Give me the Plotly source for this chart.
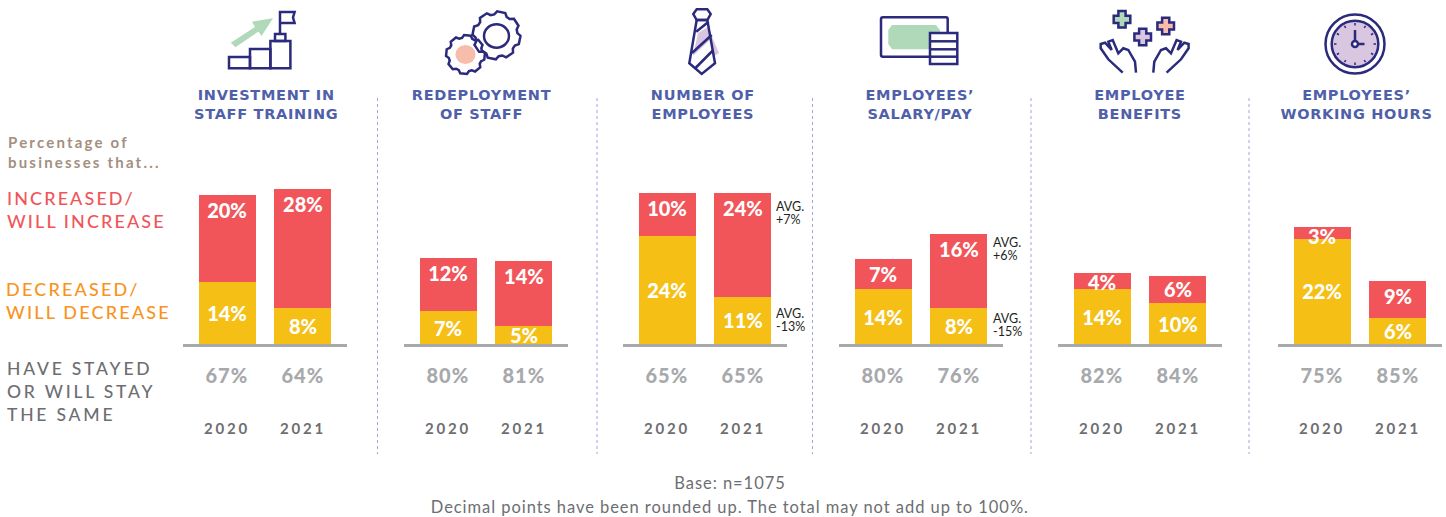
import math
import plotly.graph_objects as go

W, H = 1446, 517
FONT = "Lato"

# ---------- data ----------
panels = ["INVESTMENT IN<br>STAFF TRAINING", "REDEPLOYMENT<br>OF STAFF", "NUMBER OF<br>EMPLOYEES",
          "EMPLOYEES’<br>SALARY/PAY", "EMPLOYEE<br>BENEFITS", "EMPLOYEES’<br>WORKING HOURS"]
years = ["2020", "2021"]
# bar heights (percentage points)
decreased_2020 = [14.1, 7.5, 24.5, 12.5, 12.5, 23.9]
decreased_2021 = [8.2, 4.1, 10.7, 8.2, 9.3, 5.9]
increased_2020 = [19.8, 12.0, 9.8, 6.8, 3.6, 2.7]
increased_2021 = [27.0, 14.8, 23.6, 16.8, 6.1, 8.4]
# printed labels
decreased_2020_lbl = ["14%", "7%", "24%", "14%", "14%", "22%"]
decreased_2021_lbl = ["8%", "5%", "11%", "8%", "10%", "6%"]
increased_2020_lbl = ["20%", "12%", "10%", "7%", "4%", "3%"]
increased_2021_lbl = ["28%", "14%", "24%", "16%", "6%", "9%"]
same_2020_lbl = ["67%", "80%", "65%", "80%", "82%", "75%"]
same_2021_lbl = ["64%", "81%", "65%", "76%", "84%", "85%"]

# ---------- style ----------
RED, YEL = "#f15559", "#f5bf16"
NAVY, GREEN, LILAC, SALMON = "#2b2a7c", "#afd9b8", "#d9c6e0", "#f8bcaa"
GREY_TXT, GREY_VAL, GREY_LINE = "#6d6e71", "#a7a9ac", "#a7a9ac"
TITLE = "#4f5fa9"
PANEL_LEFT = [183, 404, 623, 839, 1058, 1278]
PANEL_W = 164
TITLE_X = [266, 481, 703, 920, 1140, 1356]
SEP_X = [377.5, 597, 812.5, 1031, 1249]
BASE_Y, TOP_Y = 344, 179
PX_PER_UNIT = 4.4


def fx(x): return x / W
def fy(y): return 1 - y / H


def path(d):
    out, isx = [], True
    for t in d.split():
        if t.isalpha():
            out.append(t)
            isx = True
        else:
            out.append(f"{(fx(float(t)) if isx else fy(float(t))):.5f}")
            isx = not isx
    return " ".join(out)


def poly(pts, close=True):
    d = "M " + " L ".join(f"{x} {y}" for x, y in pts)
    return path(d + (" Z" if close else ""))


shapes = []


def add_path(d, fill=None, line=NAVY, lw=2.5):
    shapes.append(dict(type="path", xref="paper", yref="paper", path=d,
                       fillcolor=fill or "rgba(0,0,0,0)",
                       line=dict(color=line if line else "rgba(0,0,0,0)", width=lw if line else 0)))


def add_circle(cx, cy, rx, ry=None, fill=None, line=NAVY, lw=2.5):
    ry = ry or rx
    shapes.append(dict(type="circle", xref="paper", yref="paper",
                       x0=fx(cx - rx), x1=fx(cx + rx), y0=fy(cy + ry), y1=fy(cy - ry),
                       fillcolor=fill or "rgba(0,0,0,0)",
                       line=dict(color=line if line else "rgba(0,0,0,0)", width=lw if line else 0)))


def gear(cx, cy, r1, r2, teeth=8, rot=0.0):
    pts = []
    step = 2 * math.pi / teeth
    for i in range(teeth):
        a = rot + i * step
        for off, r in [(-0.30, r2), (-0.17, r1), (0.17, r1), (0.30, r2)]:
            pts.append((round(cx + r * math.cos(a + off * step * 1.3), 2),
                        round(cy + r * math.sin(a + off * step * 1.3), 2)))
    return poly(pts)


def cross(cx, cy, a=8.3, b=3.6):
    return poly([(cx - b, cy - a), (cx + b, cy - a), (cx + b, cy - b), (cx + a, cy - b), (cx + a, cy + b),
                 (cx + b, cy + b), (cx + b, cy + a), (cx - b, cy + a), (cx - b, cy + b), (cx - a, cy + b),
                 (cx - a, cy - b), (cx - b, cy - b)])


# separators
for x in SEP_X:
    shapes.append(dict(type="line", xref="paper", yref="paper", x0=fx(x), x1=fx(x), y0=fy(98), y1=fy(454),
                       line=dict(color="#a5a3dc", width=1, dash="dot")))

# icon 1: steps and flag
add_path(poly([(230.8, 42.7), (255, 27), (252, 21.7), (273, 18.3), (261.5, 36), (258.5, 31.5), (235.4, 47.3)]), GREEN, None)
add_path(poly([(229, 57), (250, 57), (250, 68.3), (229, 68.3)]))
add_path(poly([(250, 49), (270.4, 49), (270.4, 68.3), (250, 68.3)]))
add_path(poly([(270.4, 41), (290.4, 41), (290.4, 68.3), (270.4, 68.3)]))
add_path(poly([(275, 34), (285.4, 34), (285.4, 41), (275, 41)]))
add_path(poly([(280, 34), (280, 12), (294.6, 12), (293, 17.5), (294.6, 23), (280, 23)], close=False))

# icon 2: gears
add_path(gear(496.5, 35.3, 24, 21, 8, 0.2))
add_circle(496.5, 36, 12.5, 11.7)
add_circle(465.5, 54.5, 10, 9.5, SALMON, None)
add_path(gear(465.5, 54.5, 19.5, 17, 8, 0.1))

# icon 3: tie
add_path(poly([(698, 33), (708, 27), (719, 53), (713, 57), (711, 39), (693, 56)]), LILAC, None)
add_path(poly([(693.3, 14), (696.7, 9.3), (707.3, 9.3), (710.7, 14), (707.3, 20), (696.7, 20)]))
add_path(poly([(696.7, 20), (689.3, 63.3), (701.7, 74), (715, 63.3), (707.3, 20)]))
add_path(poly([(696.2, 31.7), (708.6, 21.7)], close=False))
add_path(poly([(692, 53), (711.7, 35)], close=False))
add_path(poly([(695, 68.5), (713.3, 50)], close=False))

# icon 4: banknote and coins
add_path(poly([(892, 25), (936, 25), (940, 30), (940, 44), (936, 49.3), (892, 49.3), (888.3, 44), (888.3, 30)]), GREEN, None)
add_path(path("M 883 17.3 L 946 17.3 Q 947.7 17.3 947.7 19 L 947.7 55 Q 947.7 56.7 946 56.7 L 883 56.7 Q 881 56.7 881 55 L 881 19 Q 881 17.3 883 17.3 Z"))
add_path(poly([(930, 33), (957.3, 33), (957.3, 64), (930, 64)]), "#ffffff")
for yy in [41.3, 49.3, 56.7]:
    add_path(poly([(930, yy), (957.3, yy)], close=False))

# icon 5: hands and crosses
add_path(cross(1122, 19.3), GREEN)
add_path(cross(1142.7, 37), LILAC)
add_path(cross(1165.7, 26), SALMON)
left_hand = [(1122.7, 72.7), (1108.3, 59.3), (1100.7, 48.3), (1100.7, 44), (1105, 42.7), (1111.7, 50), (1108.3, 41.7),
             (1112.7, 40), (1118.3, 53.3), (1123.3, 48.3), (1128.3, 50), (1135, 61.7), (1136, 72.7)]
add_path(poly(left_hand, close=False))
add_path(poly([(2289.3 - x, y) for x, y in left_hand], close=False))

# icon 6: clock
add_circle(1355, 44, 29.5)
add_circle(1355, 44, 23.3, fill=LILAC)
add_path(poly([(1355, 30), (1355, 41)], close=False))
add_path(poly([(1358, 44), (1364.5, 44)], close=False))
add_circle(1355, 44, 3, fill="#ffffff")
for k in range(12):
    a = k * math.pi / 6
    add_path(poly([(round(1355 + 18.5 * math.cos(a), 2), round(44 + 18.5 * math.sin(a), 2)),
                   (round(1355 + 21 * math.cos(a), 2), round(44 + 21 * math.sin(a), 2))], close=False), lw=1.5)

# ---------- figure ----------
fig = go.Figure()
layout_axes = {}
annotations = []
dom_y = [fy(BASE_Y), fy(TOP_Y)]
y_max = (BASE_Y - TOP_Y) / PX_PER_UNIT


def note(text, x, y, size, color, weight=400, align="left", family=FONT):
    annotations.append(dict(text=text, x=fx(x), y=fy(y), xref="paper", yref="paper", showarrow=False,
                            xanchor=align, yanchor="middle", align=align,
                            font=dict(family=family, size=size, color=color, weight=weight)))


for i in range(6):
    n = i + 1
    sx = "" if i == 0 else str(n)
    yel = [decreased_2020[i], decreased_2021[i]]
    red = [increased_2020[i], increased_2021[i]]
    fig.add_bar(x=years, y=yel, marker=dict(color=YEL, line=dict(width=0)), xaxis=f"x{sx}", yaxis=f"y{sx}",
                text=[decreased_2020_lbl[i], decreased_2021_lbl[i]], textposition="inside", insidetextanchor="middle",
                textangle=0, constraintext="none",
                textfont=dict(family=FONT, size=20, color="#ffffff", weight=900), showlegend=False)
    fig.add_bar(x=years, y=red, marker=dict(color=RED, line=dict(width=0)), xaxis=f"x{sx}", yaxis=f"y{sx}",
                showlegend=False)
    # red labels sit a fixed distance below the bar top; short bars let them hang over the lower segment
    off = [(min(max(r * PX_PER_UNIT / 2, 9.5), 15.5) + 2.5) / PX_PER_UNIT for r in red]
    fig.add_scatter(x=years, y=[a + b - c for a, b, c in zip(yel, red, off)], mode="text",
                    text=[increased_2020_lbl[i], increased_2021_lbl[i]], textposition="middle center",
                    textfont=dict(family=FONT, size=20, color="#ffffff", weight=900),
                    xaxis=f"x{sx}", yaxis=f"y{sx}", showlegend=False, cliponaxis=False)
    layout_axes[f"xaxis{sx}"] = dict(domain=[fx(PANEL_LEFT[i]), fx(PANEL_LEFT[i] + PANEL_W)], anchor=f"y{sx}",
                                     type="category", range=[-0.58, 1.58], fixedrange=True,
                                     showline=True, linewidth=3, linecolor=GREY_LINE, showgrid=False, zeroline=False,
                                     ticks="outside", ticklen=69, tickcolor="rgba(0,0,0,0)", tickwidth=1,
                                     tickfont=dict(family=FONT, size=15, color=GREY_TXT, weight=700))
    layout_axes[f"yaxis{sx}"] = dict(domain=dom_y, anchor=f"x{sx}", range=[0, y_max], visible=False, fixedrange=True)
    note(panels[i], TITLE_X[i], 104, 14.5, TITLE, 700, "center", "DejaVu Sans")
    for j, lbl in enumerate([same_2020_lbl[i], same_2021_lbl[i]]):
        annotations.append(dict(text=lbl, x=j, y=fy(375), xref=f"x{sx}", yref="paper", showarrow=False,
                                xanchor="center", yanchor="middle",
                                font=dict(family=FONT, size=20, color=GREY_VAL, weight=900)))

# left-hand key
note("Percentage of<br>businesses that...", 6, 152, 15, "#a38f80", 700)
note("INCREASED/<br>WILL INCREASE", 5, 210, 18, RED, 500)
note("DECREASED/<br>WILL DECREASE", 4, 300, 18, "#f7941d", 500)
note("HAVE STAYED<br>OR WILL STAY<br>THE SAME", 5, 391, 17.5, GREY_TXT, 500)

# averages beside the bars
for x, y1, t1, t2 in [(774, 206, "AVG.", "+7%"), (774, 313, "AVG.", "-13%"),
                      (991, 242, "AVG.", "+6%"), (991, 318, "AVG.", "-15%")]:
    note(t1, x, y1, 12.5, "#231f20")
    note(t2, x, y1 + 13, 12.5, "#231f20")

# footer
note("Base: n=1075", 730, 483, 16.5, GREY_TXT, 400, "center")
note("Decimal points have been rounded up. The total may not add up to 100%.", 730, 507, 16.5, GREY_TXT, 400, "center")

fig.update_layout(width=W, height=H, margin=dict(l=0, r=0, t=0, b=0), paper_bgcolor="#ffffff", plot_bgcolor="#ffffff",
                  barmode="stack", bargap=0.25, shapes=shapes, annotations=annotations, showlegend=False,
                  font=dict(family=FONT), **layout_axes)

spacing = """
document.body.style.margin = '0';
var SP = {'rgb(163, 143, 128)': '2.2px', 'rgb(241, 85, 89)': '2.1px', 'rgb(247, 148, 29)': '2.2px',
          'rgb(109, 110, 113)': '2.8px', 'rgb(167, 169, 172)': '1px', 'rgb(79, 95, 169)': '0.7px'};
document.querySelectorAll('.annotation-text, .xaxislayer-above text').forEach(function (t) {
  var s = SP[t.style.fill];
  if (t.style.fontSize === '16.5px') { s = '0.95px'; }
  if (s) { t.style.letterSpacing = s; }
});
"""
fig.write_html("out.html", post_script=spacing, config={"displayModeBar": False})
